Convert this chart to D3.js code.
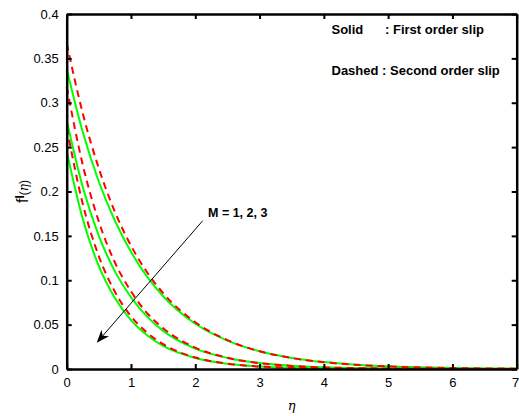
<html>
<head>
<script src="https://d3js.org/d3.v7.min.js"></script>
<style>
	body { margin: 0; background: #fff; }
	text { font-family: "Liberation Sans", Arial, sans-serif; }
</style>
</head>
<body>
<div id="chart"></div>
<script>
var eta = [0, 0.25, 0.5, 0.75, 1, 1.25, 1.5, 2, 2.5, 3, 3.5, 4, 4.5, 5, 6, 7]

// solid: first order slip, M = 1, 2, 3
var solidM1 = [0.338, 0.267, 0.211, 0.167, 0.132, 0.104, 0.082, 0.051, 0.032, 0.020, 0.0125, 0.0078, 0.0049, 0.003, 0.0012, 0.0005]
var solidM2 = [0.280, 0.205, 0.150, 0.110, 0.081, 0.059, 0.043, 0.023, 0.0125, 0.0067, 0.0036, 0.0019, 0.001, 0.0006, 0.0002, 0]
var solidM3 = [0.245, 0.169, 0.116, 0.080, 0.055, 0.038, 0.026, 0.0124, 0.0059, 0.0028, 0.0013, 0.0006, 0.0003, 0.0001, 0, 0]

// dashed: second order slip, M = 1, 2, 3
var dashedM1 = [0.367, 0.288, 0.226, 0.177, 0.139, 0.109, 0.0855, 0.0527, 0.0325, 0.020, 0.0124, 0.0076, 0.0047, 0.0029, 0.0011, 0.0004]
var dashedM2 = [0.318, 0.230, 0.166, 0.120, 0.0875, 0.063, 0.046, 0.024, 0.0126, 0.0066, 0.0035, 0.0018, 0.001, 0.0005, 0.0001, 0]
var dashedM3 = [0.272, 0.186, 0.127, 0.087, 0.0595, 0.041, 0.028, 0.013, 0.006, 0.0028, 0.0013, 0.0006, 0.0003, 0.0001, 0, 0]

var xTicks = [0, 1, 2, 3, 4, 5, 6, 7]
var yTicks = [0, 0.05, 0.1, 0.15, 0.2, 0.25, 0.3, 0.35, 0.4]

// arrow for the M annotation, in data units [eta, f']
var arrowFrom = [2.115, 0.167]
var arrowTo = [0.467, 0.0296]

var width = 519, height = 416
var margin = {left: 66.7, right: 2.3, top: 14, bottom: 47}

var svg = d3.select("#chart").append("svg")
	.attr("width", width)
	.attr("height", height)

var x = d3.scaleLinear().domain([0, 7]).range([margin.left, width - margin.right])
var y = d3.scaleLinear().domain([0, 0.4]).range([height - margin.bottom, margin.top])

var line = d3.line()
	.x(function(d){ return x(d[0]) })
	.y(function(d){ return y(d[1]) })
	.curve(d3.curveMonotoneX)

function pairs(vals){
	return eta.map(function(e, i){ return [e, vals[i]] })
}

var plot = svg.append("g")

;[solidM1, solidM2, solidM3].forEach(function(s){
	plot.append("path")
		.attr("d", line(pairs(s)))
		.attr("fill", "none")
		.attr("stroke", "#00ff00")
		.attr("stroke-width", 2)
})

;[dashedM1, dashedM2, dashedM3].forEach(function(s){
	plot.append("path")
		.attr("d", line(pairs(s)))
		.attr("fill", "none")
		.attr("stroke", "#ff0000")
		.attr("stroke-width", 2)
		.attr("stroke-dasharray", "7,5")
})

// axes, ticks pointing inwards, boxed
var bottomAxis = d3.axisBottom(x).tickValues(xTicks).tickSizeInner(-5).tickSizeOuter(0).tickPadding(9)
	.tickFormat(d3.format("d"))
var leftAxis = d3.axisLeft(y).tickValues(yTicks).tickSizeInner(-5).tickSizeOuter(0).tickPadding(8)
	.tickFormat(function(d){ return String(+d.toFixed(2)) })
var topAxis = d3.axisTop(x).tickValues(xTicks).tickSizeInner(-5).tickSizeOuter(0).tickFormat("")
var rightAxis = d3.axisRight(y).tickValues(yTicks).tickSizeInner(-5).tickSizeOuter(0).tickFormat("")

function styleAxis(g){
	g.select(".domain").attr("stroke", "#000").attr("stroke-width", 2.5)
	g.selectAll(".tick line").attr("stroke", "#000").attr("stroke-width", 2)
	g.selectAll(".tick text").attr("fill", "#000").style("font-size", "13px")
		.style("font-family", "'Liberation Sans', Arial, sans-serif")
}

var xg = svg.append("g").attr("transform", "translate(0," + y(0) + ")").call(bottomAxis).call(styleAxis)
// keep the last label inside the picture
xg.selectAll(".tick text").filter(function(d){ return d === 7 }).attr("dx", -1.5)
svg.append("g").attr("transform", "translate(" + x(0) + ",0)").call(leftAxis).call(styleAxis)
svg.append("g").attr("transform", "translate(0," + y(0.4) + ")").call(topAxis).call(styleAxis)
svg.append("g").attr("transform", "translate(" + x(7) + ",0)").call(rightAxis).call(styleAxis)

// axis titles
svg.append("text")
	.attr("x", (x(0) + x(7)) / 2)
	.attr("y", 410)
	.attr("text-anchor", "middle")
	.style("font-size", "13px")
	.style("font-style", "italic")
	.style("font-family", "'DejaVu Serif', serif")
	.text("η")

var yl = svg.append("text")
	.attr("transform", "translate(28," + ((y(0) + y(0.4)) / 2) + ") rotate(-90)")
	.attr("text-anchor", "middle")
	.style("font-size", "16px")
yl.append("tspan").text("f")
yl.append("tspan").attr("dy", -4).style("font-size", "12px").style("font-weight", "bold").text("I")
yl.append("tspan").attr("dy", 4).style("font-size", "12px").text("(")
yl.append("tspan").style("font-size", "12px").style("font-style", "italic")
	.style("font-family", "'DejaVu Serif', serif").text("η")
yl.append("tspan").style("font-size", "12px").text(")")

// legend notes
svg.append("text").attr("x", 331.5).attr("y", 34)
	.style("font-size", "13px").style("font-weight", "bold").text("Solid")
svg.append("text").attr("x", 385).attr("y", 34)
	.style("font-size", "13px").style("font-weight", "bold").text(": First order slip")
svg.append("text").attr("x", 331.5).attr("y", 75)
	.style("font-size", "13px").style("font-weight", "bold").text("Dashed : Second order slip")

// M annotation with arrow
svg.append("text").attr("x", 208).attr("y", 217)
	.style("font-size", "12.5px").style("font-weight", "bold").text("M = 1, 2, 3")

var x1 = x(arrowFrom[0]), y1 = y(arrowFrom[1])
var x2 = x(arrowTo[0]), y2 = y(arrowTo[1])
var ang = Math.atan2(y2 - y1, x2 - x1)
svg.append("line")
	.attr("x1", x1).attr("y1", y1)
	.attr("x2", x2 - 8 * Math.cos(ang)).attr("y2", y2 - 8 * Math.sin(ang))
	.attr("stroke", "#000").attr("stroke-width", 1)

// arrow head: tip, two barbs, notch
var hl = 13, hw = 5
function pt(along, across){
	return [x2 - along * Math.cos(ang) - across * Math.sin(ang),
	        y2 - along * Math.sin(ang) + across * Math.cos(ang)]
}
svg.append("path")
	.attr("d", d3.line()([pt(0, 0), pt(hl, hw), pt(hl * 0.7, 0), pt(hl, -hw)]) + "Z")
	.attr("fill", "#000")
</script>
</body>
</html>
